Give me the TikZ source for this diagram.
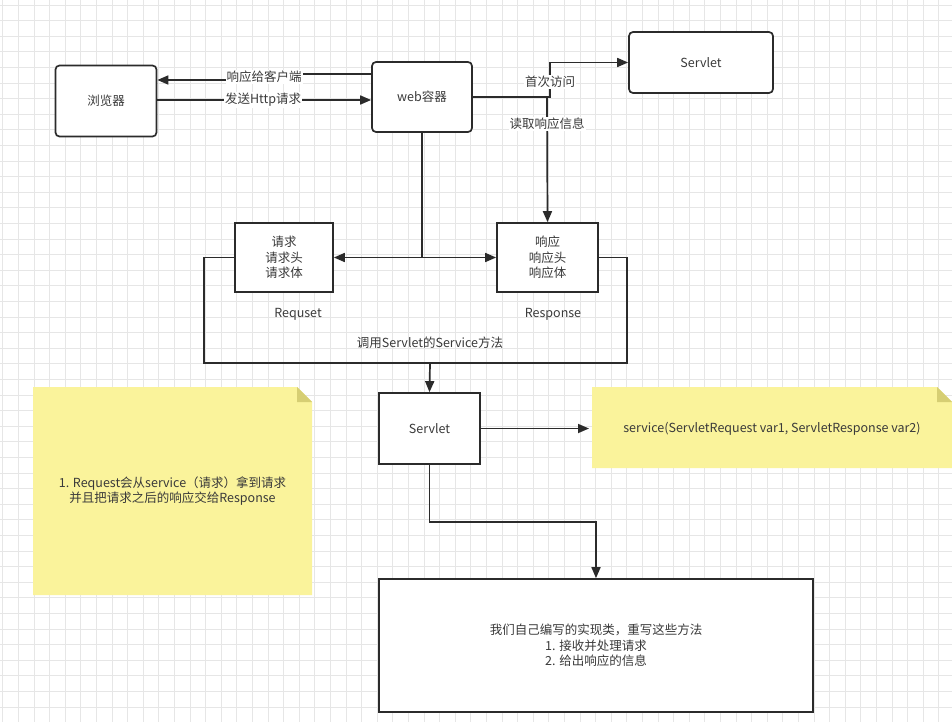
\documentclass[tikz,border=0pt]{standalone}
\usepackage{fontspec}
\setmainfont{Noto Sans CJK SC}
\usetikzlibrary{arrows.meta}
\definecolor{ln}{HTML}{2B2B2B}
\definecolor{tx}{HTML}{3A3A3A}
\definecolor{notey}{RGB}{250,243,155}
\definecolor{notefold}{RGB}{214,206,115}
\definecolor{gridc}{RGB}{230,230,230}
\begin{document}
\begin{tikzpicture}[x=1pt,y=-1pt,
  font=\fontsize{12.5}{15.5}\selectfont,
  box/.style={draw=ln,line width=1.7pt,fill=white,text=tx,align=center,inner sep=0pt},
  rbox/.style={box,rounded corners=4pt},
  conn/.style={draw=ln,line width=1.7pt},
  arr/.style={conn,-{Triangle[length=11pt,width=9pt]}},
  darr/.style={conn,{Triangle[length=11pt,width=9pt]}-{Triangle[length=11pt,width=9pt]}},
  lbl/.style={text=tx,fill=white,inner sep=1pt},
  plain/.style={text=tx,inner sep=1pt,align=center}]
\useasboundingbox (0,0) rectangle (952,722);
\fill[white] (0,0) rectangle (952,722);
% grid
\foreach \x in {2.7,18.3,...,952} \draw[gridc,line width=0.7pt] (\x,0) -- (\x,722);
\foreach \y in {5,20.6,...,722} \draw[gridc,line width=0.7pt] (0,\y) -- (952,\y);

% notes
\fill[notey] (33,387) -- (297,387) -- (312,402) -- (312,595) -- (33,595) -- cycle;
\fill[notefold] (297,387) -- (312,402) -- (297,402) -- cycle;
\node[plain,minimum width=279pt,minimum height=208pt] (note1) at (172.5,491)
  {1. Request会从service（请求）拿到请求\\并且把请求之后的响应交给Response};
\fill[notey] (592,387) -- (937,387) -- (952,402) -- (952,468) -- (592,468) -- cycle;
\fill[notefold] (937,387) -- (952,402) -- (937,402) -- cycle;
\node[plain,minimum width=360pt,minimum height=81pt,anchor=west] (note2) at (592,428.5) {};
\node[plain] at (772,429) {service(ServletRequest var1, ServletResponse var2)};

% boxes
\node[rbox,minimum width=101pt,minimum height=71pt] (browser) at (106,101) {浏览器};
\node[rbox,minimum width=100pt,minimum height=70pt] (web) at (422,97) {web容器};
\node[rbox,minimum width=144pt,minimum height=61pt] (servlet1) at (701,62.5) {Servlet};
\node[box,minimum width=98pt,minimum height=69pt] (req) at (284,257.5) {请求\\请求头\\请求体};
\node[box,minimum width=101pt,minimum height=69pt] (resp) at (547.5,257.5) {响应\\响应头\\响应体};
\node[box,minimum width=101pt,minimum height=71pt] (servlet2) at (429.5,428.5) {Servlet};
\node[box,minimum width=434pt,minimum height=133pt] (impl) at (596,645.5)
  {我们自己编写的实现类，重写这些方法\\1. 接收并处理请求\\2. 给出响应的信息};

\node[plain] (reqlbl) at (298,314) {Requset};
\node[plain] (resplbl) at (553,314) {Response};

% connectors
\draw[arr] ([yshift=23pt]web.west) -- (265,74) -- (265,80) -- ([yshift=21pt]browser.east);
\node[lbl] at (264,77) {响应给客户端};
\draw[arr] ([yshift=1pt]browser.east) -- ([yshift=-3pt]web.west);
\node[lbl] at (263,100) {发送Http请求};

\draw[arr] (web.east) -- (550,97) |- (servlet1.west);
\draw[arr] (547,97) -- (resp.north);
\node[lbl] at (550,82) {首次访问};
\node[lbl] at (547,124) {读取响应信息};

\draw[conn] (web.south) -- (422,257.5);
\draw[darr] (req.east) -- (resp.west);

\draw[conn] (req.west) -- (204,257.5) -- (204,363) -- (627,363) -- (627,257.5) -- (resp.east);
\node[plain] at (430,343) {调用Servlet的Service方法};
\draw[arr] (430,363) -- (servlet2.north);

\draw[arr,shorten >=3pt] (servlet2.east) -- (note2.west);
\draw[arr] (servlet2.south) -- (429.5,522) -- (596,522) -- (impl.north);
\end{tikzpicture}
\end{document}
